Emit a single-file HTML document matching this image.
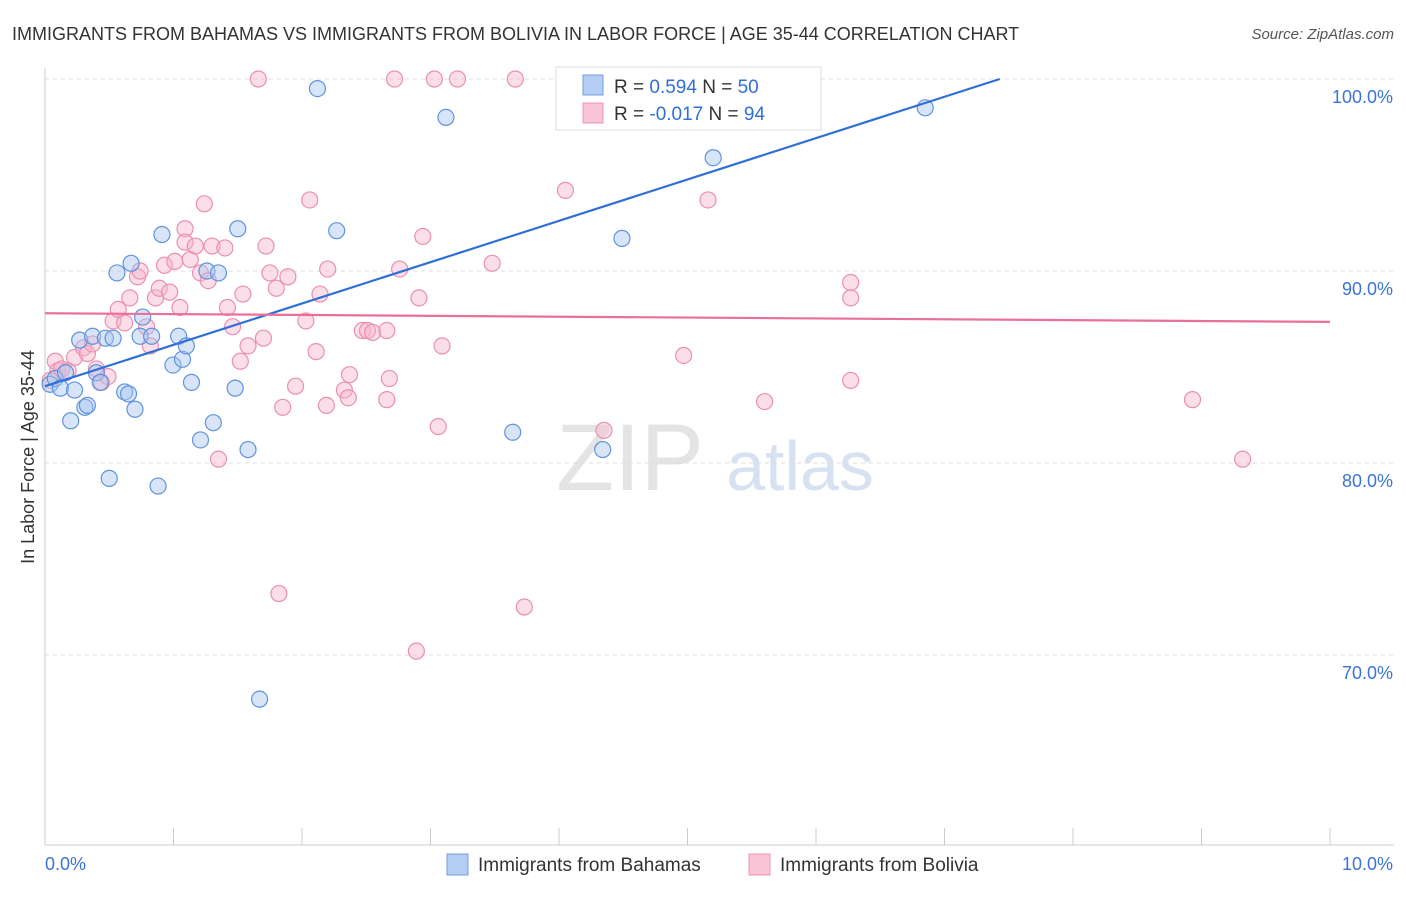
<!DOCTYPE html>
<html><head><meta charset="utf-8"><style>
body{margin:0;background:#fff;font-family:"Liberation Sans",sans-serif;}
svg text{font-family:"Liberation Sans",sans-serif;}
</style></head><body>
<svg width="1406" height="892" id="c">
<text x="12" y="40" font-size="18" fill="#333">IMMIGRANTS FROM BAHAMAS VS IMMIGRANTS FROM BOLIVIA IN LABOR FORCE | AGE 35-44 CORRELATION CHART</text>
<text x="1394" y="39" font-size="15" fill="#555" text-anchor="end" font-style="italic">Source: ZipAtlas.com</text>
<text x="630" y="490" font-size="95" fill="#e4e4e4" font-family="Liberation Serif" text-anchor="middle">ZIP</text>
<text x="800" y="490" font-size="70" fill="#d6e2f2" text-anchor="middle">atlas</text>
<text transform="translate(34,457) rotate(-90)" font-size="18" fill="#333" text-anchor="middle">In Labor Force | Age 35-44</text>
<g id="grid"></g><g id="marks"></g>
<g>
<rect x="556" y="67" width="265" height="63" fill="#fff" stroke="#ddd"/>
<rect x="583" y="75" width="20" height="20" fill="#b5cdf3" stroke="#6f9fe0"/>
<rect x="583" y="103" width="20" height="20" fill="#f9c4d6" stroke="#ef95b5"/>
<text x="614" y="93" font-size="19" fill="#333">R = <tspan fill="#2f6fd6">0.594</tspan>   N = <tspan fill="#2f6fd6">50</tspan></text>
<text x="614" y="120" font-size="19" fill="#333">R = <tspan fill="#2f6fd6">-0.017</tspan>   N = <tspan fill="#2f6fd6">94</tspan></text>
</g>
<g>
<rect x="447" y="854" width="21" height="21" fill="#b5cdf3" stroke="#6f9fe0"/>
<text x="478" y="871" font-size="19" fill="#333">Immigrants from Bahamas</text>
<rect x="749" y="854" width="21" height="21" fill="#f9c4d6" stroke="#ef95b5"/>
<text x="780" y="871" font-size="19" fill="#333">Immigrants from Bolivia</text>
</g>
</svg>
<script>
const yTicks=[100,90,80,70];
const xTickLabels=["0.0%","10.0%"];
const bahamasX=[0.04,0.08,0.12,0.16,0.2,0.23,0.27,0.31,0.33,0.37,0.4,0.43,0.47,0.5,0.53,0.56,0.62,0.65,0.67,0.7,0.74,0.76,0.83,0.88,0.91,0.996,1.04,1.07,1.1,1.14,1.21,1.26,1.31,1.35,1.48,1.5,1.58,1.67,2.12,2.27,3.12,3.64,4.34,4.49,5.2,5.91,6.85];
const bahamasY=[84.1,84.4,83.9,84.7,82.2,83.8,86.4,82.9,83.0,86.6,84.7,84.2,86.5,79.2,86.5,89.9,83.7,83.6,90.4,82.8,86.6,87.6,86.6,78.8,91.9,85.1,86.6,85.4,86.1,84.2,81.2,90.0,82.1,89.9,83.9,92.2,80.7,67.7,99.5,92.1,98.0,81.6,80.7,91.7,95.9,100,98.5];
const boliviaX=[0.04,0.08,0.1,0.13,0.18,0.23,0.3,0.33,0.37,0.4,0.44,0.49,0.53,0.57,0.62,0.66,0.72,0.74,0.79,0.82,0.86,0.89,0.93,0.97,1.01,1.05,1.09,1.09,1.13,1.17,1.21,1.24,1.27,1.3,1.35,1.4,1.42,1.46,1.52,1.54,1.58,1.66,1.7,1.72,1.75,1.8,1.82,1.85,1.89,1.95,2.03,2.06,2.11,2.14,2.19,2.2,2.33,2.36,2.37,2.47,2.51,2.55,2.66,2.68,2.72,2.76,2.89,2.91,2.94,3.03,3.06,3.09,3.21,3.48,3.66,4.05,4.35,4.97,5.6,6.27,6.27,6.27,5.16,3.73,2.66];
const boliviaY=[84.3,85.3,84.8,84.9,84.8,85.5,86.0,85.7,86.2,84.9,84.2,84.5,87.4,88.0,87.3,88.6,89.7,90.0,87.1,86.1,88.6,89.1,90.3,88.9,90.5,88.1,92.2,91.5,90.6,91.3,89.9,93.5,89.5,91.3,80.2,91.2,88.1,87.1,85.3,88.8,86.1,100,86.5,91.3,89.9,89.1,73.2,82.9,89.7,84.0,87.4,93.7,85.8,88.8,83.0,90.1,83.8,83.4,84.6,86.9,86.9,86.8,86.9,84.4,100,90.1,70.2,88.6,91.8,100,81.9,86.1,100,90.4,100,94.2,81.7,85.6,83.2,89.4,88.6,84.3,93.7,72.5,83.3];
const extraBolX=[8.93,9.32,5.41];const extraBolY=[83.3,80.2,100];
const NS="http://www.w3.org/2000/svg";
const X0=45,X1=1330,Y100=79,PX10=192;
const sx=v=>X0+(X1-X0)*v/10;
const sy=v=>Y100+(100-v)*PX10/10;
const g=document.getElementById('grid'),m=document.getElementById('marks');
function mk(t,a,p){const e=document.createElementNS(NS,t);for(const k in a)e.setAttribute(k,a[k]);p.appendChild(e);return e;}
yTicks.forEach(t=>{
 const l=mk('line',{x1:X0,x2:1394,y1:sy(t),y2:sy(t),stroke:'#ddd','stroke-dasharray':'4,4'},g);
 
 
 const tx=mk('text',{x:1393,y:sy(t)+24,'font-size':18,fill:'#3b74d6','text-anchor':'end'},g);
 tx.textContent=t.toFixed(1)+'%';
 
 
});
const ax=mk('line',{x1:X0,x2:X0,y1:68,y2:845,stroke:'#ccc'},g);


const bx=mk('line',{x1:X0,x2:1394,y1:845,y2:845,stroke:'#ccc'},g);


for(let i=0;i<=10;i++){const t=mk('line',{x1:sx(i),x2:sx(i),y1:828,y2:845,stroke:'#ccc'},g);
 
 }
[[0,45,'start'],[1,1393,'end']].forEach(([i,x,a])=>{const t=mk('text',{x:x,y:870,'font-size':18,fill:'#3b74d6','text-anchor':a},g);t.textContent=xTickLabels[i];
 
 });
function pts(xs,ys,fill,stroke,name){xs.forEach((x,i)=>{const c=mk('circle',{cx:sx(x),cy:sy(ys[i]),r:8,fill:fill,'fill-opacity':0.45,stroke:stroke,'stroke-width':1.2},m);
 
 });}
pts(boliviaX.concat(extraBolX),boliviaY.concat(extraBolY),'#f7b6cb','#ea8fb0','bolivia-point');
pts(bahamasX,bahamasY,'#a9c6f0','#5f93dc','bahamas-point');
const bl=mk('line',{x1:sx(0),y1:sy(84.0),x2:sx(7.43),y2:sy(100),stroke:'#2f6fd6','stroke-width':2.2},m);


const pl=mk('line',{x1:sx(0),y1:sy(87.8),x2:sx(10),y2:sy(87.35),stroke:'#e8709a','stroke-width':2.2},m);


</script>
</body></html>
